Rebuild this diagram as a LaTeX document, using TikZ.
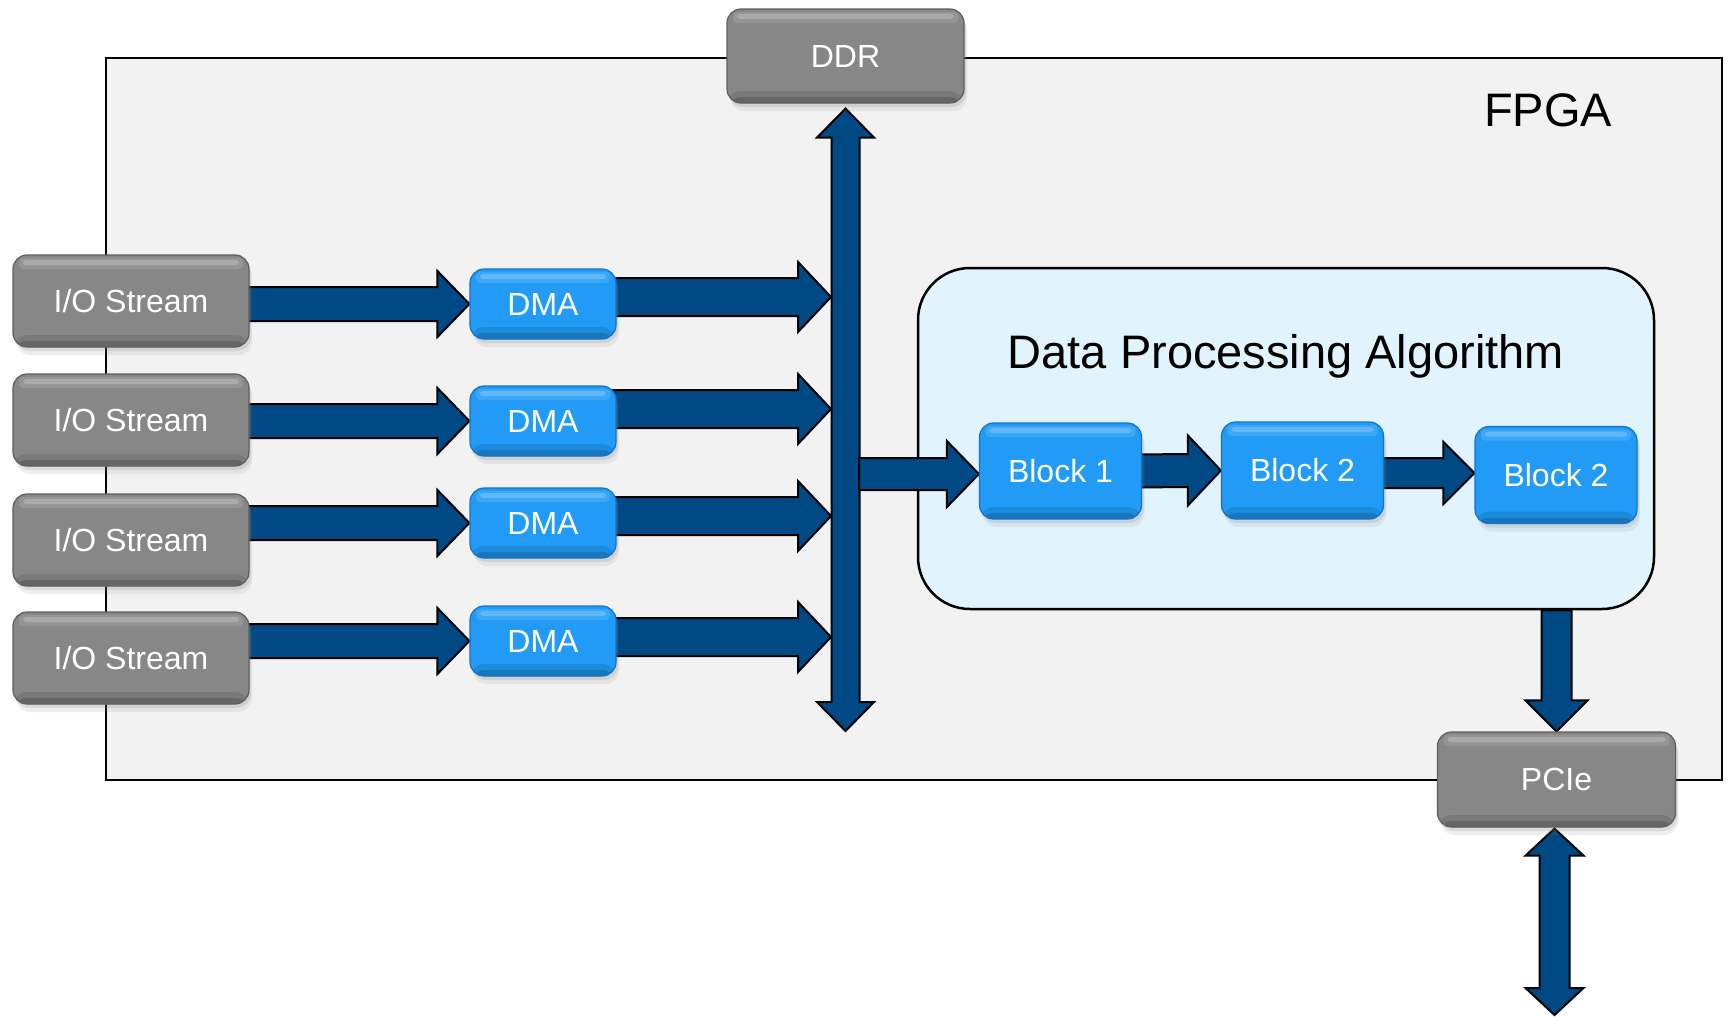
\documentclass[tikz,border=0pt]{standalone}
\usepackage{fontspec}
\setmainfont{Liberation Sans}
\usetikzlibrary{calc,shadows}
\definecolor{arrowblue}{RGB}{0,73,132}
\definecolor{boxgray}{RGB}{135,135,135}
\definecolor{boxgrayd}{RGB}{95,95,95}
\definecolor{boxblue}{RGB}{33,155,245}
\definecolor{boxblued}{RGB}{20,115,200}
\definecolor{fpgafill}{RGB}{242,242,242}
\definecolor{dpafill}{RGB}{225,243,253}
\pgfdeclarelayer{back}
\pgfdeclarelayer{arr}
\pgfsetlayers{back,arr,main}
\tikzset{
  boxbase/.style={rounded corners=14pt, text=white, font=\fontsize{32}{38}\selectfont,
    inner sep=0pt, line width=1.2pt,
    drop shadow={opacity=0.12, shadow xshift=3pt, shadow yshift=-8pt},
    drop shadow={opacity=0.18, shadow xshift=2pt, shadow yshift=-4pt},
    path picture={
      \fill[white,opacity=0.12,rounded corners=4pt]
        ([xshift=6pt,yshift=-3pt]path picture bounding box.north west) rectangle
        ([xshift=-6pt,yshift=-14pt]path picture bounding box.north east);
      \fill[white,opacity=0.2,rounded corners=3pt]
        ([xshift=10pt,yshift=-5pt]path picture bounding box.north west) rectangle
        ([xshift=-10pt,yshift=-10pt]path picture bounding box.north east);
      \fill[black,opacity=0.1]
        ([yshift=12pt]path picture bounding box.south west) rectangle
        (path picture bounding box.south east);
      \fill[black,opacity=0.15]
        ([yshift=6pt]path picture bounding box.south west) rectangle
        (path picture bounding box.south east);
    }},
  graybox/.style={boxbase, fill=boxgray, draw=boxgrayd, minimum width=236pt, minimum height=92pt},
  dmabox/.style={boxbase, fill=boxblue, draw=boxblued, minimum width=146pt, minimum height=70pt},
  blockbox/.style={boxbase, fill=boxblue, draw=boxblued, minimum width=162pt, minimum height=96pt},
  fatarrow/.style={fill=arrowblue, draw=black, line width=2pt, line join=miter},
  title/.style={font=\fontsize{47}{56}\selectfont, text=black, inner sep=0pt},
}
\newcommand{\rarrow}[5]{\draw[fatarrow] ($(#1)+(0,-#3)$) -- ($(#2)+(-#5,-#3)$) -- ($(#2)+(-#5,-#4)$) -- (#2) -- ($(#2)+(-#5,#4)$) -- ($(#2)+(-#5,#3)$) -- ($(#1)+(0,#3)$) -- cycle;}
\newcommand{\darrow}[5]{\draw[fatarrow] ($(#1)+(-#3,0)$) -- ($(#2)+(-#3,-#5)$) -- ($(#2)+(-#4,-#5)$) -- (#2) -- ($(#2)+(#4,-#5)$) -- ($(#2)+(#3,-#5)$) -- ($(#1)+(#3,0)$) -- cycle;}
\newcommand{\vdarrow}[5]{\draw[fatarrow] (#1) -- ($(#1)+(#4,#5)$) -- ($(#1)+(#3,#5)$) -- ($(#2)+(#3,-#5)$) -- ($(#2)+(#4,-#5)$) -- (#2) -- ($(#2)+(-#4,-#5)$) -- ($(#2)+(-#3,-#5)$) -- ($(#1)+(-#3,#5)$) -- ($(#1)+(-#4,#5)$) -- cycle;}
\begin{document}
\begin{tikzpicture}[x=1pt,y=-1pt]
\useasboundingbox (0,0) rectangle (1729,1017);

\begin{pgfonlayer}{back}
  \fill[white] (0,0) rectangle (1729,1017);
  \draw[fill=fpgafill, line width=2pt] (106,58) rectangle (1722,780);
  \node[draw=black, fill=dpafill, line width=2.5pt, rounded corners=52pt,
        minimum width=736pt, minimum height=341pt, inner sep=0pt] (dpa) at (1286,438.5) {};
\end{pgfonlayer}

\node[title] (fpga) at (1548,110) {FPGA};
\node[title] (dpatitle) at (1286,356) {Data Processing Algorithm};

\node[graybox, minimum width=237pt, minimum height=94pt] (ddr) at (845.5,56) {\raisebox{-3pt}{DDR}};
\node[graybox, minimum width=238pt, minimum height=95pt] (pcie) at (1556.5,779.5) {\raisebox{-3pt}{PCIe}};

\node[graybox] (io1) at (131,301) {I/O Stream};
\node[graybox] (io2) at (131,420) {I/O Stream};
\node[graybox] (io3) at (131,540) {I/O Stream};
\node[graybox] (io4) at (131,658) {I/O Stream};

\node[dmabox] (dma1) at (543,304) {DMA};
\node[dmabox] (dma2) at (543,421) {DMA};
\node[dmabox] (dma3) at (543,523) {DMA};
\node[dmabox] (dma4) at (543,641) {DMA};

\node[blockbox] (b1) at (1060.5,471) {Block 1};
\node[blockbox, minimum height=97pt] (b2) at (1302.5,470.5) {Block 2};
\node[blockbox, minimum height=97pt] (b3) at (1556,475) {Block 2};

\begin{pgfonlayer}{arr}
  % bus between DDR and the DMA outputs
  \coordinate (bustop) at ($(ddr.south)+(0,5)$);
  \coordinate (busbot) at (bustop |- 0,731);
  \vdarrow{bustop}{busbot}{14}{28.5}{29}
  % I/O stream -> DMA
  \foreach \i in {1,2,3,4}{
    \coordinate (s\i) at ($(io\i.east |- dma\i.west)+(-6,0)$);
    \rarrow{s\i}{dma\i.west}{17}{33}{32}
  }
  % DMA -> bus
  \coordinate (t1) at (831,297);
  \coordinate (t2) at (831,409);
  \coordinate (t3) at (831,516);
  \coordinate (t4) at (831,637);
  \foreach \i in {1,2,3,4}{
    \coordinate (u\i) at ($(dma\i.east |- t\i)+(-6,0)$);
    \rarrow{u\i}{t\i}{19}{35}{33}
  }
  % bus -> Block 1
  \coordinate (busr) at (859,474);
  \coordinate (b1in) at (b1.west |- busr);
  \rarrow{busr}{b1in}{16}{33}{32}
  % Block chain
  \coordinate (c1) at ($(b1.east)+(-6,0)$);
  \rarrow{c1}{b2.west}{16.5}{35}{33}
  \coordinate (c2) at ($(b2.east |- b3.west)+(-6,-2)$);
  \coordinate (c2t) at ($(b3.west)+(0,-2)$);
  \rarrow{c2}{c2t}{15}{31}{31}
  % DPA -> PCIe
  \coordinate (pa) at (pcie.north |- dpa.south);
  \darrow{pa}{pcie.north}{15}{31}{31}
  % PCIe <-> outside
  \coordinate (pb) at ($(pcie.south)+(-2,1)$);
  \coordinate (pe) at (pb |- 0,1015);
  \vdarrow{pb}{pe}{15}{29}{27}
\end{pgfonlayer}
\end{tikzpicture}
\end{document}
